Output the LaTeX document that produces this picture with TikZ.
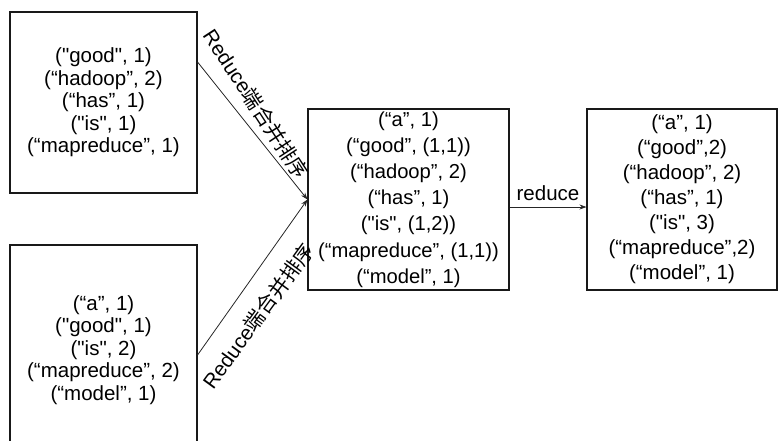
\documentclass[tikz,border=0pt]{standalone}
\usepackage{fontspec}
\setmainfont{Liberation Sans}[Ligatures=TeXOff]
\newfontfamily\cjk{Noto Sans CJK SC}
\usetikzlibrary{arrows.meta}
\begin{document}
\begin{tikzpicture}[x=1pt,y=-1pt,
  box/.style={draw=black!90, line width=1.1pt, rectangle, align=center, inner sep=0pt},
  leftbox/.style={box, minimum width=187pt, font=\fontsize{20.5}{22.5}\selectfont},
  rightbox/.style={box, minimum height=181pt},
  arr/.style={draw=black!85, line width=0.8pt, -{Stealth[length=7pt,width=5pt]}},
  lbl/.style={font=\fontsize{20.5}{22}\selectfont, inner sep=0pt}]
\useasboundingbox (0,0) rectangle (778,440);
\clip (0,0) rectangle (778,440);
\node[leftbox, minimum height=181pt] (tl) at (103.5,102.5)
  {("good", 1)\\(“hadoop”, 2)\\(“has”, 1)\\("is", 1)\\(“mapreduce”, 1)};
\node[leftbox, minimum height=210pt] (bl) at (103.5,350)
  {(“a”, 1)\\("good", 1)\\("is", 2)\\(“mapreduce”, 2)\\(“model”, 1)};
\node[rightbox, minimum width=201pt, font=\fontsize{20.2}{26.2}\selectfont] (mid) at (408.5,199.5)
  {(“a”, 1)\\(“good”, (1,1))\\(“hadoop”, 2)\\(“has”, 1)\\("is", (1,2))\\(“mapreduce”, (1,1))\\(“model”, 1)};
\node[rightbox, minimum width=190pt, font=\fontsize{20.5}{25}\selectfont] (rt) at (682,199.5)
  {(“a”, 1)\\(“good”,2)\\(“hadoop”, 2)\\(“has”, 1)\\("is", 3)\\(“mapreduce”,2)\\(“model”, 1)};
\draw[arr] ([yshift=40.5pt]tl.east) -- (mid.west);
\draw[arr] ([yshift=-5pt]bl.east) -- (mid.west);
\draw[arr] ([yshift=-7.5pt]mid.east) -- node[lbl, above=6pt] (red) {reduce} ([yshift=-7.5pt]rt.west);
\node[lbl, rotate=-56.8] (lt) at (256,104) {Reduce{\cjk 端合并排序}};
\node[lbl, rotate=53.9] (lb) at (258,316) {Reduce{\cjk 端合并排序}};
\end{tikzpicture}
\end{document}
